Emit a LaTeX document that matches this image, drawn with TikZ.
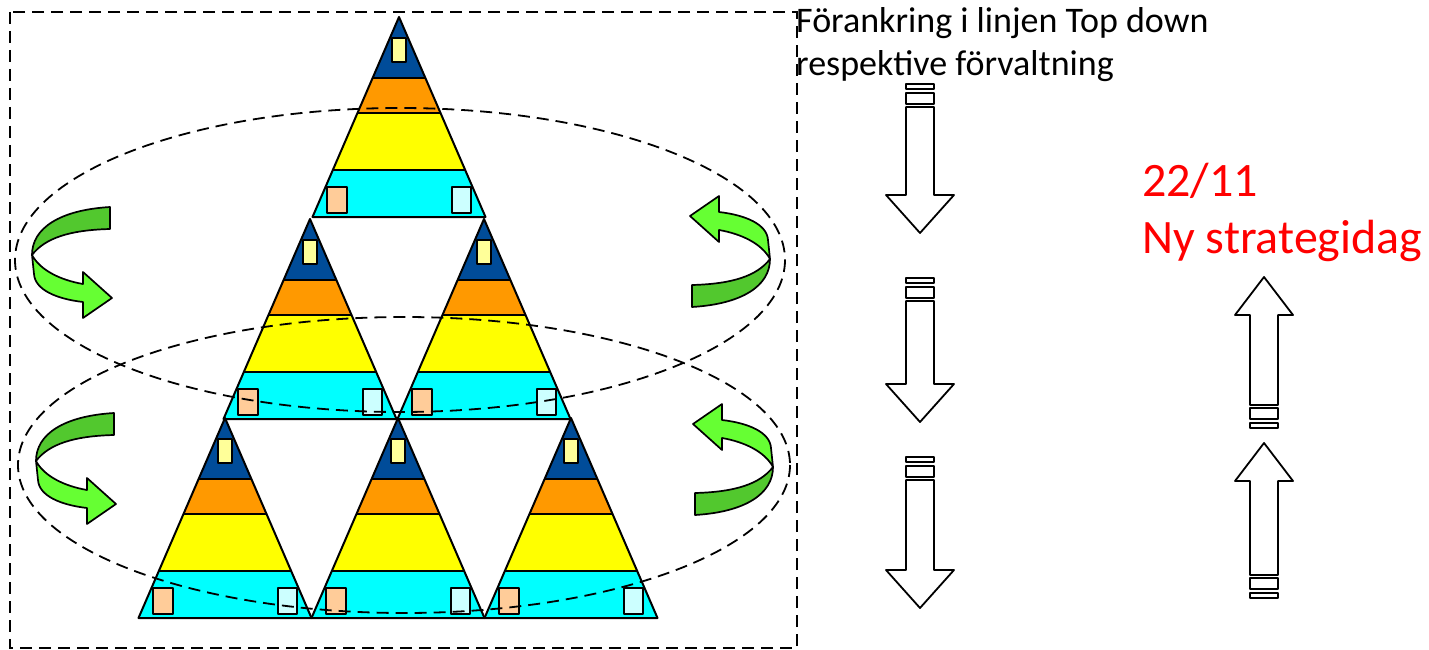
\documentclass[tikz,border=0pt]{standalone}
\usepackage{fontspec}
\setmainfont{Carlito}
\usepackage{xcolor}
\usepackage{tikz}
\usetikzlibrary{arrows.meta,positioning,calc}

\definecolor{pyrblue}{RGB}{0,76,153}
\definecolor{pyrorange}{RGB}{255,153,0}
\definecolor{pyryellow}{RGB}{255,255,0}
\definecolor{pyrcyan}{RGB}{0,255,255}
\definecolor{boxyellow}{RGB}{255,255,153}
\definecolor{boxpeach}{RGB}{255,204,153}
\definecolor{boxcyan}{RGB}{204,255,255}
\definecolor{turndark}{RGB}{82,200,46}
\definecolor{turnlight}{RGB}{102,255,51}
\definecolor{datered}{RGB}{255,0,0}

\begin{document}
\begin{tikzpicture}[x=1pt, y=-1pt,
  outline/.style={draw=black, line width=2pt, line join=round},
  frame/.style={draw=black, line width=2pt, dash pattern=on 12pt off 7pt},
  ring/.style={draw=black, line width=1.8pt, dash pattern=on 12pt off 7pt},
  pics/pyramid/.style={code={
    \fill[pyrblue] (0,0) -- (-26.4,61) -- (26.4,61) -- cycle;
    \fill[pyrorange] (-26.4,61) -- (-41.5,96) -- (41.5,96) -- (26.4,61) -- cycle;
    \fill[pyryellow] (-41.5,96) -- (-66.2,153) -- (66.2,153) -- (41.5,96) -- cycle;
    \fill[pyrcyan] (-66.2,153) -- (-86.5,200) -- (86.5,200) -- (66.2,153) -- cycle;
    \draw[outline] (-26.4,61) -- (26.4,61) (-41.5,96) -- (41.5,96) (-66.2,153) -- (66.2,153);
    \draw[outline] (0,0) -- (-86.5,200) -- (86.5,200) -- cycle;
    \draw[outline, fill=boxyellow] (-7,21) rectangle (7,45);
    \draw[outline, fill=boxpeach] (-72,170) rectangle (-52,196);
    \draw[outline, fill=boxcyan] (53,170) rectangle (72,196);
  }},
  pics/turnarrow/.style={code={
    \draw[outline, line width=1.7pt, fill=turnlight] (-40,-7) .. controls (-32,8) and (-12,18) .. (11,22)
      -- (11,10) -- (40,36) -- (11,56) -- (11,40) .. controls (-15,37) and (-37,28) .. (-38,12) -- cycle;
    \draw[outline, line width=1.7pt, fill=turndark] (38,-55) .. controls (-12,-52) and (-40,-34) .. (-40,-7)
      .. controls (-27,-24) and (-2,-32) .. (38,-33) -- cycle;
  }},
  pics/blockarrow/.style 2 args={code={
    \draw[outline, line width=1.8pt] (-14,0) rectangle (14,5);
    \draw[outline, line width=1.8pt] (-14,9) rectangle (14,20);
    \draw[outline, line width=1.8pt] (-14,23) -- (-14,#1-38) -- (-#2,#1-38) -- (0,#1)
      -- (#2,#1-38) -- (14,#1-38) -- (14,23) -- cycle;
  }}
]
\useasboundingbox (0,0) rectangle (1429,650);

% pyramids
\foreach \px/\py in {399/17, 310/219, 484/219, 225/418, 398/418, 571/418}
  \pic at (\px,\py) {pyramid};

% frame and rings
\draw[frame] (10,12) rectangle (797,648);
\draw[ring] (400,260) ellipse [x radius=385, y radius=152];
\draw[ring] (404,465) ellipse [x radius=386, y radius=148];

% turning arrows
\pic at (72,262) {turnarrow};
\pic at (76,468) {turnarrow};
\pic[rotate=180] at (730,252) {turnarrow};
\pic[rotate=180] at (733,460) {turnarrow};

% top down arrows
\foreach \ay/\alen in {84/149, 278/144, 457/151}
  \pic at (920,\ay) {blockarrow={\alen}{34}};
% bottom up arrows
\pic[rotate=180] at (1264,428) {blockarrow={151}{29}};
\pic[rotate=180] at (1264,598) {blockarrow={155}{29}};

% texts
\node[anchor=base west, align=left, inner sep=0pt, font=\fontsize{36}{43}\selectfont]
  (anchoring) at (796,76) {Förankring i linjen Top down\\respektive förvaltning};
\node[anchor=base west, align=left, inner sep=0pt, text=datered, font=\fontsize{48}{57}\selectfont]
  (strategyday) at (1142,253) {22/11\\Ny strategidag};
\end{tikzpicture}
\end{document}
